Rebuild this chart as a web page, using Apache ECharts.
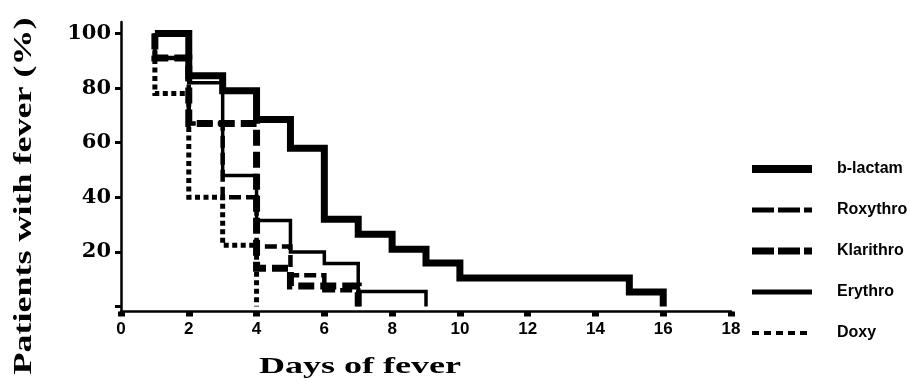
<!DOCTYPE html>
<html><head><meta charset="utf-8">
<script src="https://cdn.jsdelivr.net/npm/echarts@6/dist/echarts.min.js"></script>
<style>html,body{margin:0;padding:0;background:#fff}#c{width:910px;height:381px}</style>
</head><body><div id="c"></div>
<script>
// ---- data ----
const yLabelValues = [20, 40, 60, 80, 100];
const yTickValues = [0, 20, 40, 60, 80, 100];
const seriesNames = ['b-lactam', 'Roxythro', 'Klarithro', 'Erythro', 'Doxy'];
const blactamDays = [1, 2, 3, 4, 5, 6, 7, 8, 9, 10, 15, 16];
const blactamPct  = [100, 84.5, 79, 68.5, 58, 32, 26.5, 21, 16, 10.5, 5.3, 0];
const roxyDays    = [1, 1, 2, 3, 4, 5, 6, 7];
const roxyPct     = [100, 91, 67, 40, 22, 11.5, 6, 0];
const klariDays   = [1, 1, 2, 4, 5, 7];
const klariPct    = [100, 91, 67, 14, 7.5, 0];
const erythroDays = [1, 1, 2, 3, 4, 5, 6, 7, 9];
const erythroPct  = [100, 91, 82, 48, 31.5, 20, 15.8, 5.5, 0];
const doxyDays    = [1, 1, 2, 3, 4];
const doxyPct     = [100, 78, 40, 22.5, 0];

const pairs = (d, p) => d.map((x, i) => [x, p[i]]);
const styles = {
  'b-lactam':  { width: 7,   type: 'solid' },
  'Roxythro':  { width: 4.5, type: [12, 5] },
  'Klarithro': { width: 7,   type: [16, 6] },
  'Erythro':   { width: 3.5, type: 'solid' },
  'Doxy':      { width: 5,   type: [5, 3.5] }
};
const dataMap = {
  'b-lactam': pairs(blactamDays, blactamPct),
  'Roxythro': pairs(roxyDays, roxyPct),
  'Klarithro': pairs(klariDays, klariPct),
  'Erythro': pairs(erythroDays, erythroPct),
  'Doxy': pairs(doxyDays, doxyPct)
};
const legendStyles = {
  'b-lactam':  { width: 8, type: 'solid' },
  'Roxythro':  { width: 5, type: [22, 4] },
  'Klarithro': { width: 7, type: [22, 4] },
  'Erythro':   { width: 5, type: 'solid' },
  'Doxy':      { width: 4, type: [7, 5] }
};

const chart = echarts.init(document.getElementById('c'));
chart.setOption({
  animation: false,
  backgroundColor: '#ffffff',
  grid: { left: 121, right: 179, top: 22, bottom: 69.5, containLabel: false },
  xAxis: {
    type: 'value', min: 0, max: 18, interval: 2,
    axisLine: { onZero: false, lineStyle: { color: '#000', width: 2.5 } },
    axisTick: { show: true, length: 5, lineStyle: { color: '#000', width: 7 } },
    axisLabel: { color: '#000', fontFamily: 'Liberation Sans', fontWeight: 'bold', fontSize: 17, margin: 9 },
    splitLine: { show: false }
  },
  yAxis: {
    type: 'value', min: -1.8, max: 104.2,
    axisLine: { show: true, onZero: false, lineStyle: { color: '#000', width: 2.5 } },
    axisTick: { show: true, length: 6, customValues: yTickValues, lineStyle: { color: '#000', width: 3 } },
    axisLabel: { color: '#000', fontFamily: 'DejaVu Serif', fontWeight: 'bold', fontSize: 21, margin: 10, customValues: yLabelValues },
    splitLine: { show: false }
  },
  legend: {
    orient: 'vertical', left: 743, top: 156,
    itemWidth: 60, itemHeight: 14, itemGap: 25,
    itemStyle: { color: 'rgba(0,0,0,0)', borderWidth: 0, opacity: 0 },
    textStyle: { color: '#000', fontFamily: 'Liberation Sans', fontWeight: 'bold', fontSize: 16, padding: [0, 0, 0, 20] },
    data: seriesNames.map(n => ({ name: n, itemStyle: { opacity: 0 }, lineStyle: { color: '#000', width: legendStyles[n].width, type: legendStyles[n].type } }))
  },
  graphic: [
    { type: 'text', x: 360, y: 367, scaleX: 1.5, scaleY: 1,
      style: { text: 'Days of fever', font: 'bold 24px "Liberation Serif", "Times New Roman", serif', fill: '#000', align: 'center', verticalAlign: 'middle', textAlign: 'center', textVerticalAlign: 'middle' } },
    { type: 'text', x: 24, y: 196, rotation: Math.PI / 2, scaleX: 1.2, scaleY: 0.85,
      style: { text: 'Patients with fever (%)', font: 'bold 30px "Liberation Serif", "Times New Roman", serif', fill: '#000', align: 'center', verticalAlign: 'middle', textAlign: 'center', textVerticalAlign: 'middle' } }
  ],
  series: seriesNames.map(n => ({
    name: n, type: 'line', step: 'end', data: dataMap[n],
    symbol: 'none', showSymbol: false, color: '#000',
    lineStyle: { color: '#000', width: styles[n].width, type: styles[n].type, cap: 'butt', join: 'miter' }
  }))
});
</script>
</body></html>
